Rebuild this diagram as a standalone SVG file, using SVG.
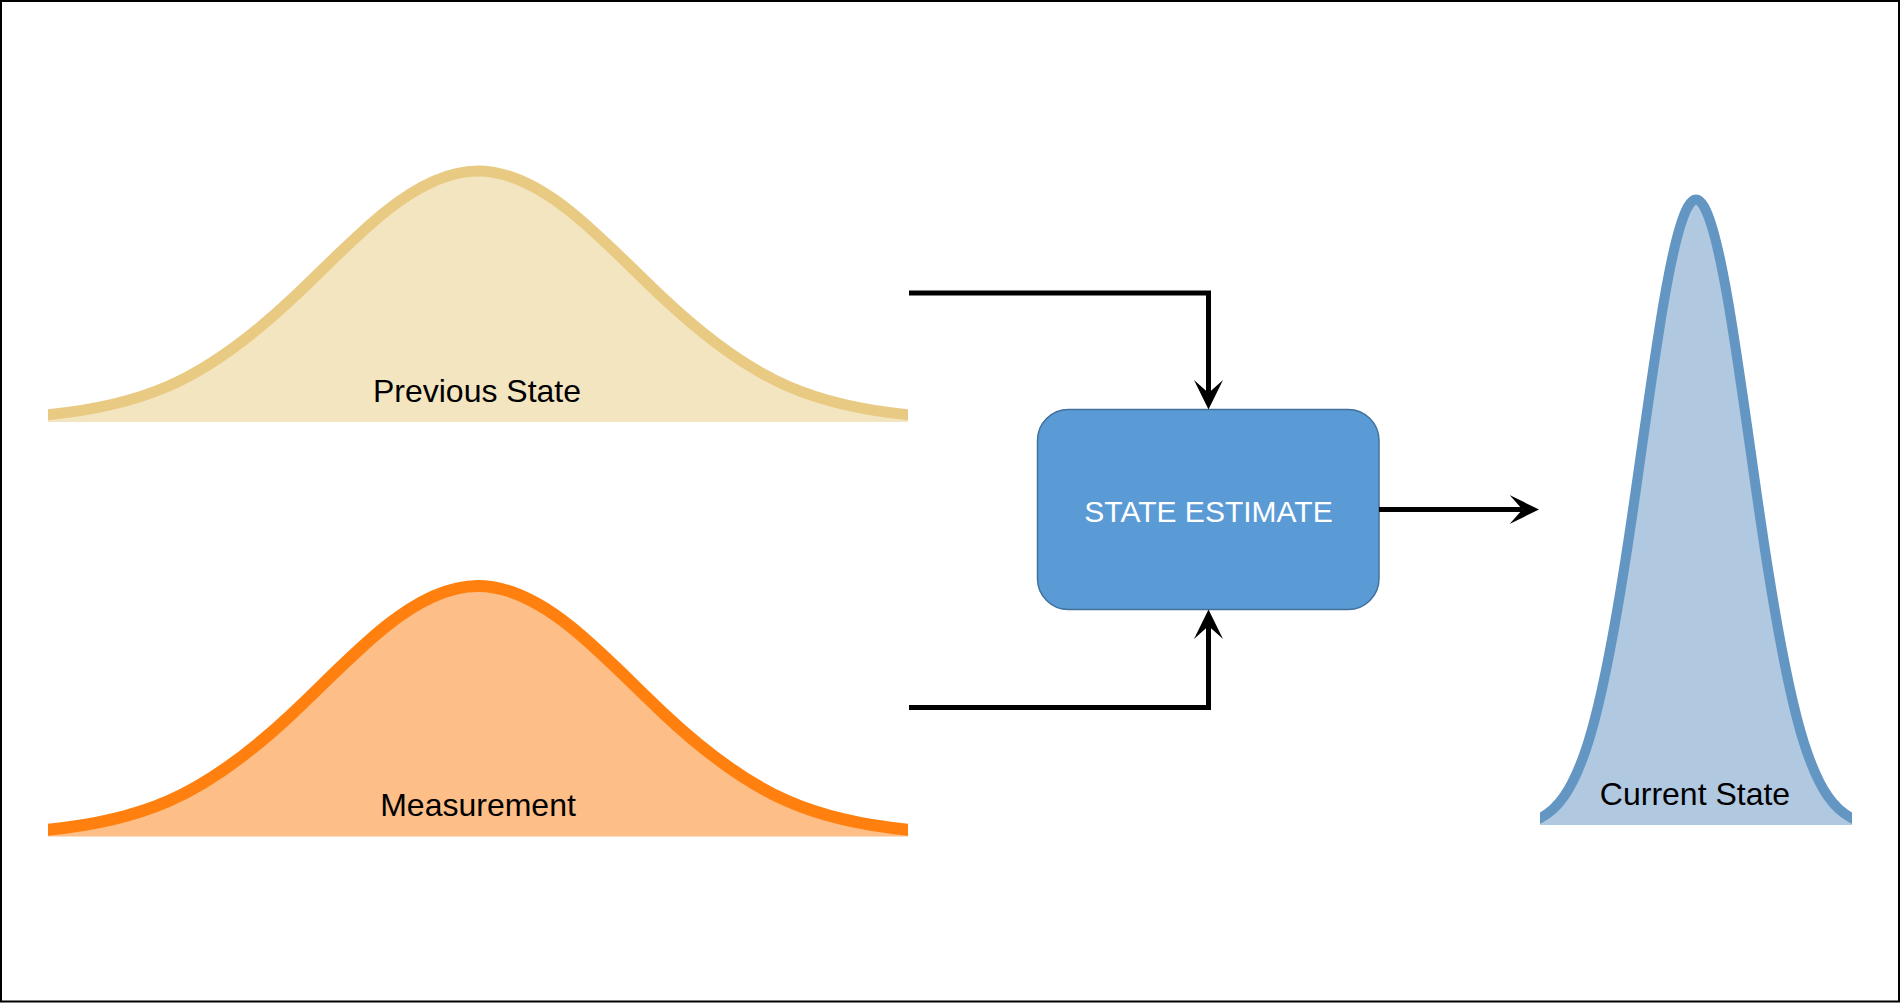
<svg xmlns="http://www.w3.org/2000/svg" width="1900" height="1003" viewBox="0 0 1900 1003">
<style>
.lbl{font-family:"Liberation Sans",Arial,sans-serif;font-size:32px;fill:#000;text-anchor:middle}
.box-lbl{font-family:"Liberation Sans",Arial,sans-serif;font-size:30px;fill:#fff;text-anchor:middle}
.conn{fill:none;stroke:#000;stroke-width:5;stroke-linejoin:miter;marker-end:url(#arrow)}
.prev-fill{fill:#F4E5C1;stroke:none}
.prev-line{fill:none;stroke:#E8CA83;stroke-width:11}
.meas-fill{fill:#FDBE87;stroke:none}
.meas-line{fill:none;stroke:#FF800E;stroke-width:12}
.cur-fill{fill:#B0C8E0;stroke:none}
.cur-line{fill:none;stroke:#6496C3;stroke-width:10}
</style>
<defs>
<marker id="arrow" markerUnits="userSpaceOnUse" markerWidth="30" markerHeight="30" viewBox="0 0 30 30" refX="13" refY="15" orient="auto">
<path d="M29.5,15 L0,0.5 L13,15 L0,29.5 Z" fill="#000"/>
</marker>
<clipPath id="clipWide"><rect x="48" y="0" width="860" height="1003"/></clipPath>
<clipPath id="clipNarrow"><rect x="1540" y="0" width="312" height="1003"/></clipPath>
</defs>
<rect x="1" y="1" width="1898" height="1000.5" fill="#fff" stroke="#000" stroke-width="2"/>

<g id="node-previous-state" clip-path="url(#clipWide)">
<path class="prev-fill" d="M48,414.69 C88,410.88 128,403.69 168,386.3 C209.33,368.33 250.67,337.58 292,298.8 C323,269.71 354,236.98 385,212.02 C416,187.06 447,171 478,171 C509,171 540,187.06 571,212.02 C602,236.98 633,269.71 664,298.8 C705.33,337.58 746.67,368.33 788,386.3 C828,403.69 868,410.88 908,414.69 L908,422 L48,422 Z"/>
<path class="prev-line" d="M44,415 L48,414.69 C88,410.88 128,403.69 168,386.3 C209.33,368.33 250.67,337.58 292,298.8 C323,269.71 354,236.98 385,212.02 C416,187.06 447,171 478,171 C509,171 540,187.06 571,212.02 C602,236.98 633,269.71 664,298.8 C705.33,337.58 746.67,368.33 788,386.3 C828,403.69 868,410.88 908,414.69 L912,415"/>
<text class="lbl" x="477" y="402">Previous State</text>
</g>

<g id="node-measurement" clip-path="url(#clipWide)">
<path class="meas-fill" d="M48,414.69 C88,410.88 128,403.69 168,386.3 C209.33,368.33 250.67,337.58 292,298.8 C323,269.71 354,236.98 385,212.02 C416,187.06 447,171 478,171 C509,171 540,187.06 571,212.02 C602,236.98 633,269.71 664,298.8 C705.33,337.58 746.67,368.33 788,386.3 C828,403.69 868,410.88 908,414.69 L908,421.5 L48,421.5 Z" transform="translate(0,415)"/>
<path class="meas-line" d="M44,415 L48,414.69 C88,410.88 128,403.69 168,386.3 C209.33,368.33 250.67,337.58 292,298.8 C323,269.71 354,236.98 385,212.02 C416,187.06 447,171 478,171 C509,171 540,187.06 571,212.02 C602,236.98 633,269.71 664,298.8 C705.33,337.58 746.67,368.33 788,386.3 C828,403.69 868,410.88 908,414.69 L912,415" transform="translate(0,415)"/>
<text class="lbl" x="478" y="816">Measurement</text>
</g>

<g id="node-state-estimate">
<rect x="1037.5" y="409.5" width="341.5" height="200" rx="31" ry="31" fill="#5B9BD5" stroke="#41719C" stroke-width="1.5"/>
<text class="box-lbl" x="1208.5" y="522">STATE ESTIMATE</text>
</g>

<g id="node-current-state" clip-path="url(#clipNarrow)">
<path class="cur-fill" d="M1540,818.32 C1556,810.03 1572,793.35 1588,742.94 C1602.4,697.57 1616.8,619.97 1631.2,522.08 C1642,448.66 1652.8,366.03 1663.6,303.03 C1674.4,240.04 1685.2,199.5 1696,199.5 C1706.8,199.5 1717.6,240.04 1728.4,303.03 C1739.2,366.03 1750,448.66 1760.8,522.08 C1775.2,619.97 1789.6,697.57 1804,742.94 C1820,793.35 1836,810.03 1852,818.32 L1852,825 L1540,825 Z"/>
<path class="cur-line" d="M1536,820 L1540,818.32 C1556,810.03 1572,793.35 1588,742.94 C1602.4,697.57 1616.8,619.97 1631.2,522.08 C1642,448.66 1652.8,366.03 1663.6,303.03 C1674.4,240.04 1685.2,199.5 1696,199.5 C1706.8,199.5 1717.6,240.04 1728.4,303.03 C1739.2,366.03 1750,448.66 1760.8,522.08 C1775.2,619.97 1789.6,697.57 1804,742.94 C1820,793.35 1836,810.03 1852,818.32 L1856,820"/>
<text class="lbl" x="1695" y="805">Current State</text>
</g>

<g id="connectors">
<path class="conn" d="M909,293 H1208.5 V393"/>
<path class="conn" d="M909,707.5 H1208.5 V626"/>
<path class="conn" d="M1379,509.5 H1522.5"/>
</g>
</svg>
